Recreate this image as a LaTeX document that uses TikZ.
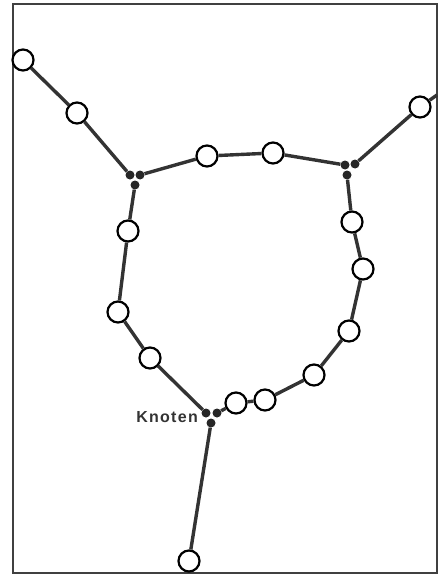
\documentclass[tikz,border=0pt]{standalone}
\usepackage{fontspec}
\setsansfont{Liberation Sans}
\usepackage{tikz}
\usetikzlibrary{positioning}

\begin{document}
\begin{tikzpicture}[
        x=1pt, y=-1pt,
        every node/.style={font=\sffamily},
        bead/.style={circle, draw, line width=2.2pt, fill=white, inner sep=0pt, minimum size=21pt},
        knot/.style={circle, fill=black!85, inner sep=0pt, minimum size=9pt},
        link/.style={line width=3.4pt, black!80}
    ]
%
    % Frame
    \useasboundingbox (0,0) rectangle (440,575);
    \draw[line width=1.5pt, black!75] (13,4) rectangle (437,573);
%
    % Knots
    \node[knot] (ka) at (130,175) {};
    \node[knot] (kb) at (140,175) {};
    \node[knot] (kc) at (135,185) {};
    \node[knot] (ma) at (345,165) {};
    \node[knot] (mb) at (355,164) {};
    \node[knot] (mc) at (347,175) {};
    \node[knot] (na) at (206,413) {};
    \node[knot] (nb) at (217,413) {};
    \node[knot] (nc) at (211,423) {};
%
    % Beads
    \node[bead] (l1) at (23,60) {};
    \node[bead] (l2) at (77,113) {};
    \node[bead] (t1) at (207,156) {};
    \node[bead] (t2) at (273,153) {};
    \node[bead] (r0) at (420,107) {};
    \node[bead] (r1) at (352,222) {};
    \node[bead] (r2) at (363,269) {};
    \node[bead] (r3) at (349,331) {};
    \node[bead] (r4) at (314,375) {};
    \node[bead] (r5) at (265,400) {};
    \node[bead] (r6) at (236,403) {};
    \node[bead] (s1) at (128,231) {};
    \node[bead] (s2) at (118,312) {};
    \node[bead] (s3) at (150,358) {};
    \node[bead] (b1) at (189,561) {};
    \coordinate (edge) at (437,95);
%
    % Links
    \draw[link] (l1) -- (l2) -- (ka);
    \draw[link] (kb) -- (t1) -- (t2) -- (ma);
    \draw[link] (mb) -- (r0) -- (edge);
    \draw[link] (mc) -- (r1) -- (r2) -- (r3) -- (r4) -- (r5) -- (r6) -- (nb);
    \draw[link] (kc) -- (s1) -- (s2) -- (s3) -- (na);
    \draw[link] (nc) -- (b1);
%
    % Label
    \node[anchor=base east, font=\sffamily\bfseries\fontsize{16}{16}\selectfont\addfontfeature{LetterSpace=8}, text=black!80, inner sep=0pt] (lab) at (198,422) {Knoten};
%
\end{tikzpicture}
\end{document}
